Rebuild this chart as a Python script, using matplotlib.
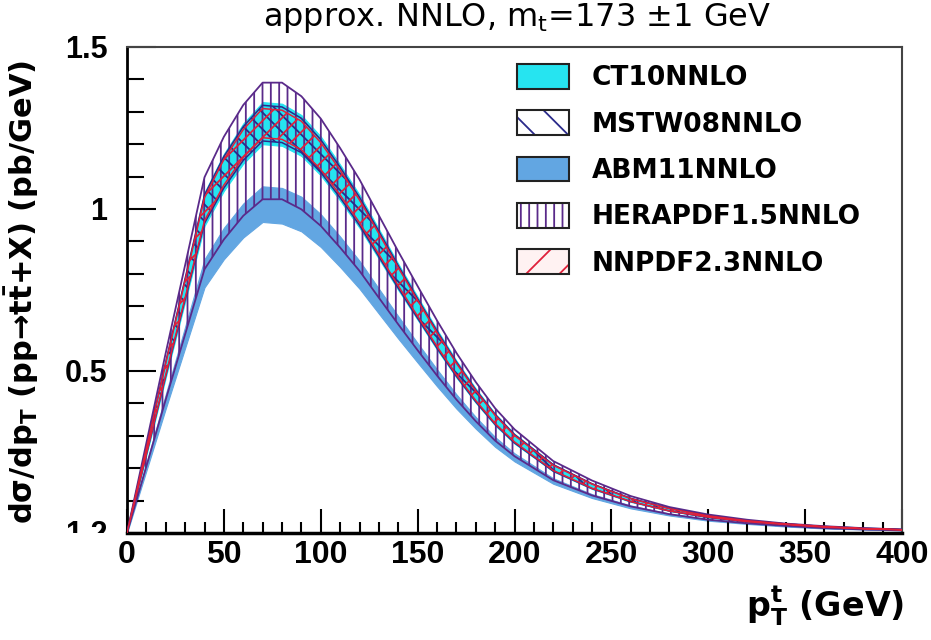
import matplotlib
matplotlib.use("Agg")
import matplotlib.pyplot as plt
from matplotlib.patches import Patch
from matplotlib.ticker import MultipleLocator
from matplotlib.transforms import Bbox, TransformedBbox

plt.rcParams['font.family'] = ['DejaVu Sans']
plt.rcParams['mathtext.fontset'] = 'dejavusans'
plt.rcParams['hatch.linewidth'] = 1.3

# top-quark pT points (GeV)
pt = [0, 20, 40, 50, 60, 70, 80, 90, 100, 110, 120, 130, 140, 150, 160, 170,
      180, 190, 200, 220, 240, 260, 280, 300, 320, 340, 360, 380, 400]

# band edges, pb/GeV
hera_hi = [0, 0.556, 1.098, 1.223, 1.321, 1.39, 1.39, 1.348, 1.279, 1.188, 1.091, 0.980, 0.869, 0.762,
           0.656, 0.556, 0.466, 0.385, 0.320, 0.222, 0.162, 0.114, 0.080, 0.057, 0.041, 0.029, 0.021, 0.015, 0.011]
hera_lo = [0, 0.412, 0.814, 0.906, 0.979, 1.03, 1.03, 0.999, 0.948, 0.881, 0.809, 0.726, 0.644, 0.564,
           0.486, 0.412, 0.345, 0.285, 0.237, 0.163, 0.116, 0.082, 0.058, 0.041, 0.030, 0.022, 0.015, 0.011, 0.008]
ct10_hi = [0, 0.532, 1.051, 1.170, 1.264, 1.33, 1.325, 1.290, 1.224, 1.137, 1.044, 0.938, 0.831, 0.729,
           0.628, 0.532, 0.446, 0.368, 0.306, 0.212, 0.153, 0.108, 0.076, 0.054, 0.039, 0.028, 0.020, 0.015, 0.011]
ct10_lo = [0, 0.48, 0.948, 1.056, 1.14, 1.20, 1.195, 1.164, 1.104, 1.026, 0.942, 0.846, 0.75, 0.658,
           0.566, 0.48, 0.402, 0.332, 0.276, 0.19, 0.136, 0.096, 0.068, 0.048, 0.035, 0.025, 0.018, 0.013, 0.010]
mstw_hi = [0, 0.528, 1.043, 1.162, 1.254, 1.32, 1.315, 1.280, 1.214, 1.129, 1.036, 0.931, 0.825, 0.723,
           0.623, 0.528, 0.442, 0.366, 0.304, 0.211, 0.152, 0.107, 0.076, 0.054, 0.038, 0.028, 0.020, 0.015, 0.011]
mstw_lo = [0, 0.484, 0.956, 1.065, 1.150, 1.21, 1.205, 1.174, 1.113, 1.035, 0.950, 0.853, 0.756, 0.663,
           0.571, 0.484, 0.405, 0.335, 0.278, 0.191, 0.137, 0.097, 0.068, 0.048, 0.035, 0.025, 0.018, 0.013, 0.010]
nnpdf_hi = [0, 0.524, 1.035, 1.153, 1.245, 1.31, 1.305, 1.271, 1.205, 1.120, 1.028, 0.924, 0.819, 0.718,
            0.618, 0.524, 0.439, 0.363, 0.301, 0.209, 0.151, 0.106, 0.075, 0.053, 0.038, 0.028, 0.020, 0.014, 0.010]
nnpdf_lo = [0, 0.488, 0.964, 1.074, 1.159, 1.22, 1.215, 1.183, 1.122, 1.043, 0.958, 0.860, 0.763, 0.669,
            0.576, 0.488, 0.409, 0.338, 0.281, 0.193, 0.138, 0.097, 0.068, 0.049, 0.035, 0.026, 0.018, 0.013, 0.010]
abm_hi = [0, 0.428, 0.845, 0.942, 1.017, 1.07, 1.065, 1.038, 0.984, 0.915, 0.840, 0.754, 0.669, 0.586,
          0.505, 0.428, 0.358, 0.296, 0.246, 0.169, 0.120, 0.085, 0.060, 0.043, 0.031, 0.022, 0.016, 0.012, 0.009]
abm_lo = [0, 0.384, 0.758, 0.845, 0.912, 0.96, 0.955, 0.931, 0.883, 0.821, 0.754, 0.677, 0.600, 0.526,
          0.453, 0.384, 0.322, 0.266, 0.221, 0.152, 0.108, 0.076, 0.054, 0.038, 0.028, 0.020, 0.014, 0.011, 0.008]

labels = ["CT10NNLO", "MSTW08NNLO", "ABM11NNLO", "HERAPDF1.5NNLO", "NNPDF2.3NNLO"]

cyan = "#26e4f0"
abm_blue = "#62a6e2"
navy = "#2a2a8a"
purple = "#5a2a8a"
red = "#e0203a"
dark = "#222222"

fig = plt.figure(figsize=(9.31, 6.4), dpi=100)
ax = fig.add_axes([127 / 931, 107 / 640, 775 / 931, 486 / 640])

ax.fill_between(pt, abm_lo, abm_hi, facecolor=abm_blue, edgecolor=abm_blue, lw=0.8, zorder=1)
ax.fill_between(pt, ct10_lo, ct10_hi, facecolor=cyan, edgecolor=cyan, lw=0.8, zorder=2)
ax.fill_between(pt, hera_lo, hera_hi, facecolor="none", edgecolor=purple, hatch="||", lw=1.3, zorder=3)
ax.fill_between(pt, mstw_lo, mstw_hi, facecolor="none", edgecolor=navy, hatch="\\\\", lw=1.1, zorder=4)
ax.fill_between(pt, nnpdf_lo, nnpdf_hi, facecolor="none", edgecolor=red, hatch="//", lw=1.1, zorder=5)

ax.set_xlim(0, 400)
ax.set_ylim(0, 1.5)
ax.xaxis.set_major_locator(MultipleLocator(50))
ax.xaxis.set_minor_locator(MultipleLocator(10))
ax.yaxis.set_minor_locator(MultipleLocator(0.1))
ax.set_yticks([0.5, 1.0, 1.5])
ax.set_yticklabels(["0.5", "1", "1.5"])
ax.tick_params(axis="both", which="both", direction="in", top=False, right=False, width=1.5)
ax.tick_params(axis="x", which="major", length=17, pad=5)
ax.tick_params(axis="x", which="minor", length=8)
ax.tick_params(axis="y", which="major", length=21, pad=14)
ax.tick_params(axis="y", which="minor", length=12)
for lab in ax.get_xticklabels():
    lab.set_fontweight("bold")
    lab.set_family(["Liberation Sans Narrow", "Liberation Sans"])
    lab.set_fontsize(23)
for lab in ax.get_yticklabels():
    lab.set_fontweight("bold")
    lab.set_family(["Liberation Sans"])
    lab.set_fontsize(22)
ax.spines["bottom"].set_linewidth(2.5)
ax.spines["left"].set_linewidth(2)
ax.spines["top"].set_linewidth(1.5)
ax.spines["right"].set_linewidth(1.5)
ax.spines["top"].set_color("#444444")
ax.spines["right"].set_color("#444444")

# clipped bottom label left over from the original canvas
t = fig.text(108 / 931, 1 - 535 / 640, "1.2", ha="right", va="center", fontsize=22,
             fontweight="bold", family=["Liberation Sans"])
t.set_clip_box(TransformedBbox(Bbox.from_extents(0, 1 - 533 / 640, 0.135, 1), fig.transFigure))

handles = [
    (Patch(facecolor=cyan, lw=0), Patch(facecolor="none", edgecolor=dark, lw=1.5)),
    (Patch(facecolor="white", edgecolor=navy, hatch="\\", lw=0), Patch(facecolor="none", edgecolor=dark, lw=1.5)),
    (Patch(facecolor=abm_blue, lw=0), Patch(facecolor="none", edgecolor=dark, lw=1.5)),
    (Patch(facecolor="white", edgecolor=purple, hatch="||", lw=0), Patch(facecolor="none", edgecolor=dark, lw=1.5)),
    (Patch(facecolor="#fff2f2", edgecolor=red, hatch="/", lw=0), Patch(facecolor="none", edgecolor=dark, lw=1.5)),
]
leg = ax.legend(handles, labels, loc="upper left", bbox_to_anchor=(517 / 931, 1 - 64 / 640),
                bbox_transform=fig.transFigure, frameon=False, borderpad=0, borderaxespad=0,
                handlelength=1.97, handleheight=1.06, handletextpad=0.87, labelspacing=0.72,
                prop={"size": 19, "weight": "bold"})

fig.text(517 / 931, 1 - 18 / 640, "approx. NNLO, m$_\\mathrm{t}$=173 $\\pm$1 GeV", ha="center", va="center",
         fontsize=23)
fig.text(22 / 931, 1 - 292 / 640,
         "d\u03c3/dp$_\\mathbf{T}$ (pp\u2192t$\\mathbf{\\bar{t}}$+X) (pb/GeV)",
         rotation=90, ha="center", va="center", fontsize=22, fontweight="bold")
fig.text(904 / 931, 1 - 606 / 640, "p$_\\mathbf{T}^\\mathbf{t}$ (GeV)", ha="right", va="center",
         fontsize=24, fontweight="bold")

fig.savefig("out.png", dpi=100, facecolor="white")
